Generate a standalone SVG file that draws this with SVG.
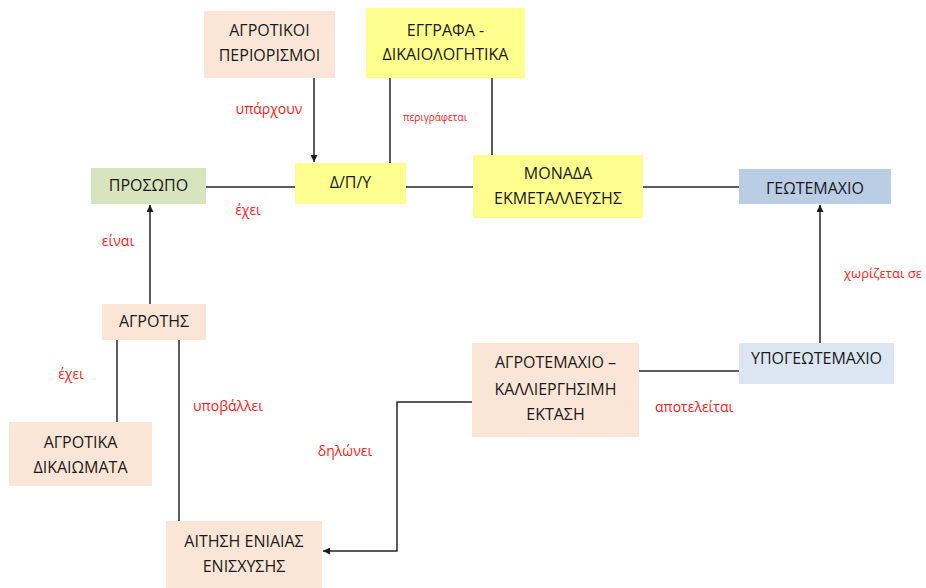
<svg xmlns="http://www.w3.org/2000/svg" width="926" height="588" viewBox="0 0 926 588">
  <defs>
    <marker id="arrow" viewBox="0 0 10 10" refX="10" refY="5" markerWidth="7" markerHeight="7" orient="auto" markerUnits="userSpaceOnUse">
      <path d="M0,0 L10,5 L0,10 z" fill="#1a1a1a"/>
    </marker>
    <style>
      .peach { fill: #FBE5D6; }
      .yellow { fill: #FFFF8F; }
      .green { fill: #D7E4BD; }
      .blue { fill: #B9CDE5; }
      .lblue { fill: #DCE6F2; }
      .t { font-family: "Open Sans", "Liberation Sans", sans-serif; font-size: 16px; fill: #1a1a1a; text-anchor: middle; dominant-baseline: middle; }
      .lbl { font-family: "Open Sans", "Liberation Sans", sans-serif; font-size: 14px; fill: #FF1A1A; dominant-baseline: middle; }
      .line { stroke: #262626; stroke-width: 1.5; fill: none; }
    </style>
  </defs>
  <rect width="926" height="588" fill="#ffffff"/>

  <!-- connectors -->
  <g id="connectors">
    <line class="line" x1="314" y1="78" x2="314" y2="162" marker-end="url(#arrow)"/>
    <line class="line" x1="390" y1="78" x2="390" y2="163"/>
    <line class="line" x1="492" y1="78" x2="492" y2="155"/>
    <line class="line" x1="206" y1="187" x2="295" y2="187"/>
    <line class="line" x1="406" y1="187" x2="473" y2="187"/>
    <line class="line" x1="643" y1="187" x2="739" y2="187"/>
    <line class="line" x1="820" y1="343" x2="820" y2="205" marker-end="url(#arrow)"/>
    <line class="line" x1="639" y1="371" x2="739" y2="371"/>
    <polyline class="line" points="472,402 397,402 397,551 323,551" marker-end="url(#arrow)"/>
    <line class="line" x1="150" y1="304" x2="150" y2="205" marker-end="url(#arrow)"/>
    <line class="line" x1="117" y1="340" x2="117" y2="422"/>
    <line class="line" x1="179" y1="340" x2="179" y2="521"/>

    <text class="lbl" x="269" y="110" text-anchor="middle">υπάρχουν</text>
    <text class="lbl" x="435" y="118" text-anchor="middle" style="font-size:10px">περιγράφεται</text>
    <text class="lbl" x="248" y="211" text-anchor="middle">έχει</text>
    <text class="lbl" x="118" y="242" text-anchor="middle">είναι</text>
    <text class="lbl" x="844" y="275" style="font-size:13px">χωρίζεται σε</text>
    <text class="lbl" x="71" y="375" text-anchor="middle">έχει</text>
    <text class="lbl" x="228" y="407" text-anchor="middle">υποβάλλει</text>
    <text class="lbl" x="655" y="408">αποτελείται</text>
    <text class="lbl" x="345" y="452" text-anchor="middle">δηλώνει</text>
  </g>

  <g id="agrotikoi-periorismoi">
    <rect class="peach" x="204" y="11" width="131" height="67"/>
    <text class="t" x="269.5" y="32">ΑΓΡΟΤΙΚΟΙ</text>
    <text class="t" x="269.5" y="57">ΠΕΡΙΟΡΙΣΜΟΙ</text>
  </g>

  <g id="eggrafa">
    <rect class="yellow" x="366" y="8" width="159" height="70"/>
    <text class="t" x="445.5" y="32">ΕΓΓΡΑΦΑ -</text>
    <text class="t" x="445.5" y="56">ΔΙΚΑΙΟΛΟΓΗΤΙΚΑ</text>
  </g>

  <g id="prosopo">
    <rect class="green" x="91" y="168" width="115" height="36"/>
    <text class="t" x="148.5" y="187">ΠΡΟΣΩΠΟ</text>
  </g>

  <g id="dpy">
    <rect class="yellow" x="295" y="163" width="111" height="41"/>
    <text class="t" x="350.5" y="184">Δ/Π/Υ</text>
  </g>

  <g id="monada">
    <rect class="yellow" x="473" y="155" width="170" height="63"/>
    <text class="t" x="558" y="175">ΜΟΝΑΔΑ</text>
    <text class="t" x="558" y="200">ΕΚΜΕΤΑΛΛΕΥΣΗΣ</text>
  </g>

  <g id="geotemaxio">
    <rect class="blue" x="739" y="169" width="152" height="35"/>
    <text class="t" x="815" y="190">ΓΕΩΤΕΜΑΧΙΟ</text>
  </g>

  <g id="ypogeotemaxio">
    <rect class="lblue" x="739" y="343" width="155" height="41"/>
    <text class="t" x="816.5" y="360">ΥΠΟΓΕΩΤΕΜΑΧΙΟ</text>
  </g>

  <g id="agrotemaxio">
    <rect class="peach" x="472" y="343" width="167" height="94"/>
    <text class="t" x="555.5" y="364">ΑΓΡΟΤΕΜΑΧΙΟ –</text>
    <text class="t" x="555.5" y="391">ΚΑΛΛΙΕΡΓΗΣΙΜΗ</text>
    <text class="t" x="555.5" y="416">ΕΚΤΑΣΗ</text>
  </g>

  <g id="agrotis">
    <rect class="peach" x="102" y="304" width="104" height="36"/>
    <text class="t" x="154" y="323">ΑΓΡΟΤΗΣ</text>
  </g>

  <g id="agrotika-dikaiomata">
    <rect class="peach" x="9" y="422" width="143" height="64"/>
    <text class="t" x="80.5" y="444">ΑΓΡΟΤΙΚΑ</text>
    <text class="t" x="80.5" y="469">ΔΙΚΑΙΩΜΑΤΑ</text>
  </g>

  <g id="aitisi">
    <rect class="peach" x="166" y="521" width="156" height="67"/>
    <text class="t" x="244" y="543">ΑΙΤΗΣΗ ΕΝΙΑΙΑΣ</text>
    <text class="t" x="244" y="568">ΕΝΙΣΧΥΣΗΣ</text>
  </g>
</svg>
